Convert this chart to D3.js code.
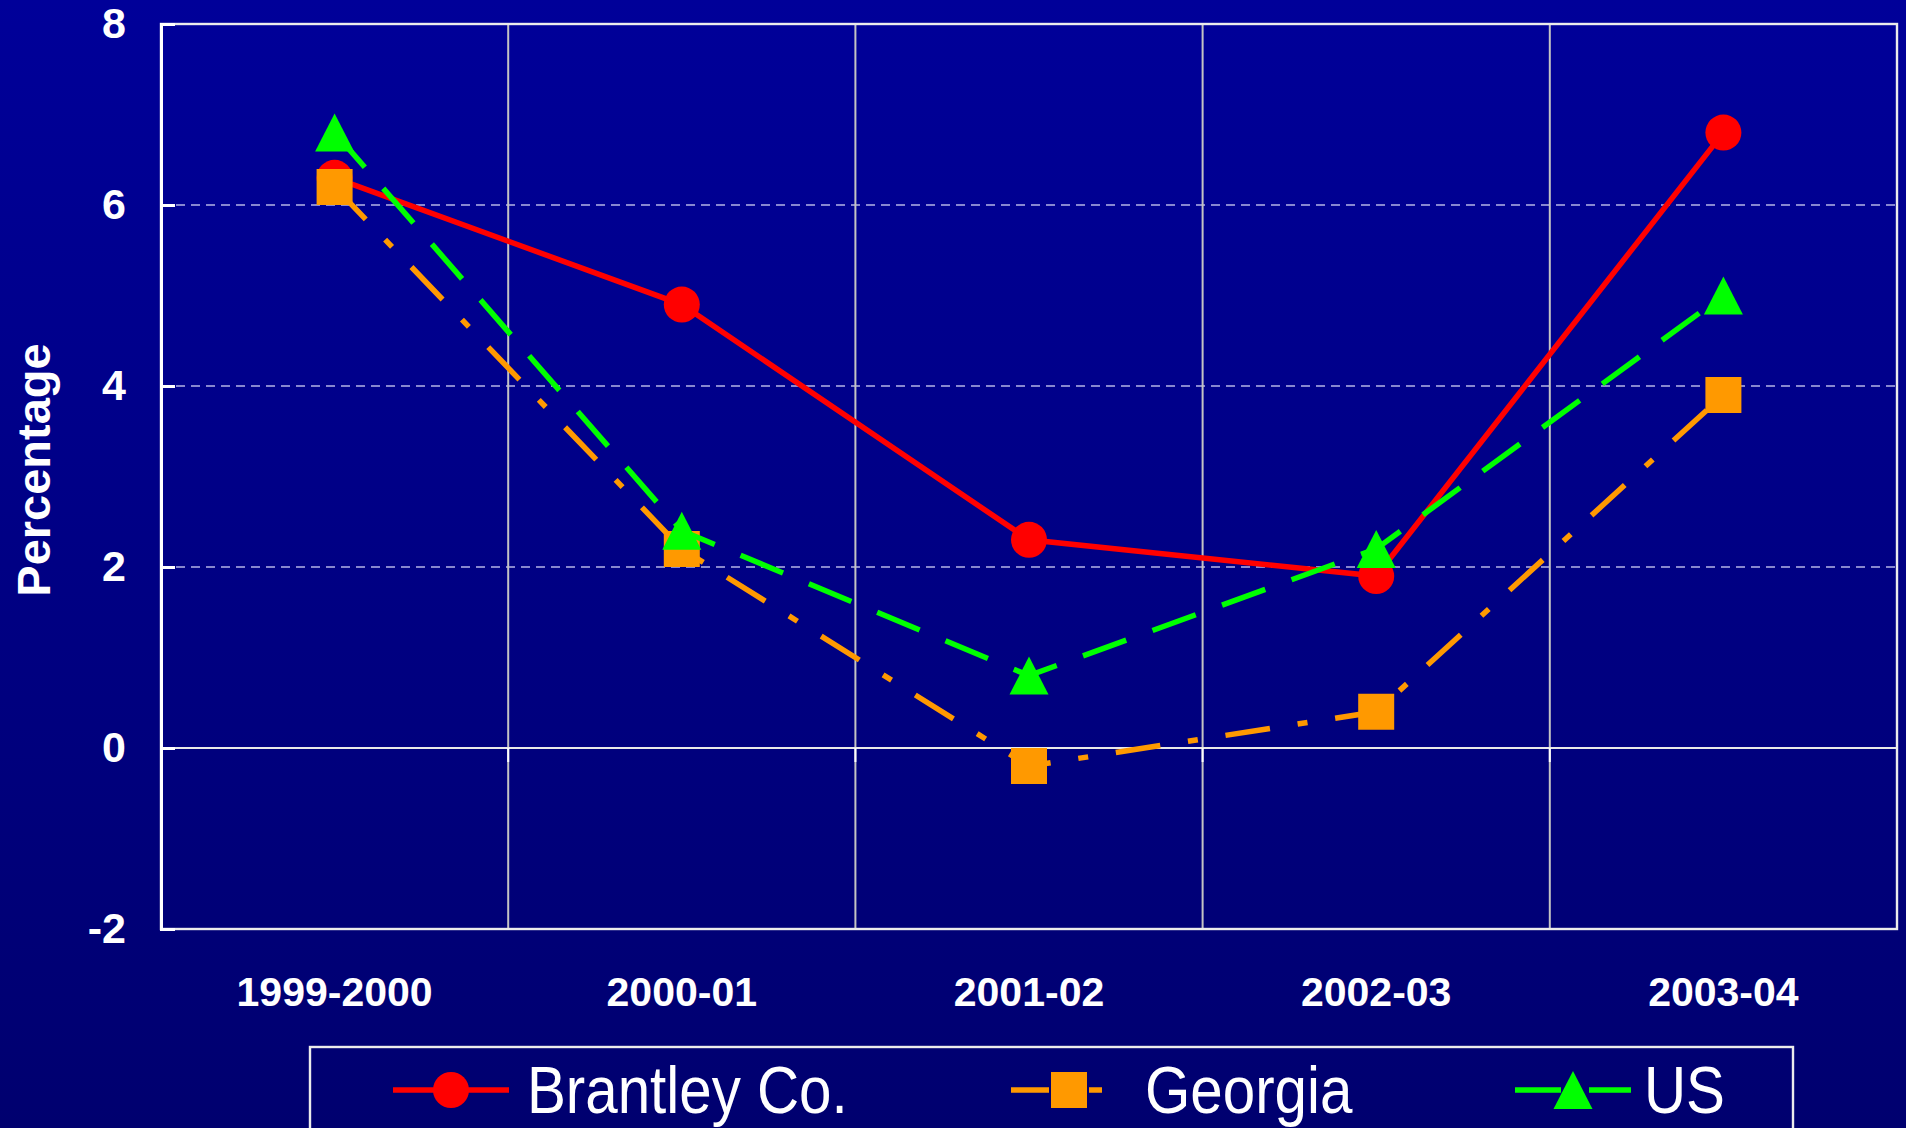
<!DOCTYPE html>
<html>
<head>
<meta charset="utf-8">
<script src="https://cdn.jsdelivr.net/npm/d3@7"></script>
<style>
  html, body { margin: 0; padding: 0; background: #000080; }
  svg { display: block; }
</style>
</head>
<body>
<svg id="chart"></svg>
<script>
// data
const categories = ["1999-2000", "2000-01", "2001-02", "2002-03", "2003-04"];
const brantley = [6.3, 4.9, 2.3, 1.9, 6.8];
const georgia = [6.2, 2.2, -0.2, 0.4, 3.9];
const us = [6.8, 2.4, 0.8, 2.2, 5.0];
const yTicks = [-2, 0, 2, 4, 6, 8];
const gridValues = [2, 4, 6];
const seriesNames = ["Brantley Co.", "Georgia", "US"];

const width = 1906;
const height = 1128;
const plotLeft = 161, plotRight = 1897, plotTop = 24, plotBottom = 929;

const svg = d3.select("#chart")
              .attr("width", width)
              .attr("height", height);

// slide background
let grad = svg.append("defs").append("linearGradient")
   .attr("id", "bg").attr("x1", 0).attr("y1", 0).attr("x2", 0).attr("y2", 1);
grad.append("stop").attr("offset", "0%").attr("stop-color", "#000099");
grad.append("stop").attr("offset", "100%").attr("stop-color", "#00006f");
svg.append("rect").attr("width", width).attr("height", height).attr("fill", "url(#bg)");

const x = d3.scaleBand().domain(categories).range([plotLeft, plotRight]);
const y = d3.scaleLinear().domain([-2, 8]).range([plotBottom, plotTop]);
const cx = (c) => x(c) + x.bandwidth() / 2;

// dashed horizontal gridlines
svg.append("g")
   .selectAll("line")
   .data(gridValues)
   .enter()
   .append("line")
   .attr("x1", plotLeft).attr("x2", plotRight)
   .attr("y1", d => y(d)).attr("y2", d => y(d))
   .attr("stroke", "#b4b4e6")
   .attr("stroke-width", 1.6)
   .attr("stroke-dasharray", "9,6");

// vertical gridlines at category boundaries
const bounds = categories.slice(1).map(c => x(c));
svg.append("g")
   .selectAll("line")
   .data(bounds)
   .enter()
   .append("line")
   .attr("x1", d => d).attr("x2", d => d)
   .attr("y1", plotTop).attr("y2", plotBottom)
   .attr("stroke", "#c4c4c4")
   .attr("stroke-width", 2);

// zero line with downward ticks
svg.append("line")
   .attr("x1", plotLeft).attr("x2", plotRight)
   .attr("y1", y(0)).attr("y2", y(0))
   .attr("stroke", "#e8e8e8").attr("stroke-width", 2.2);
svg.append("g")
   .selectAll("line")
   .data([plotLeft].concat(bounds).concat([plotRight]))
   .enter()
   .append("line")
   .attr("x1", d => d).attr("x2", d => d)
   .attr("y1", y(0)).attr("y2", y(0) + 14)
   .attr("stroke", "white").attr("stroke-width", 2);

// plot frame
svg.append("rect")
   .attr("x", plotLeft).attr("y", plotTop)
   .attr("width", plotRight - plotLeft).attr("height", plotBottom - plotTop)
   .attr("fill", "none")
   .attr("stroke", "#ececec")
   .attr("stroke-width", 2.4);

// y axis
const yAxis = svg.append("g")
   .attr("transform", `translate(${plotLeft},0)`)
   .call(d3.axisLeft(y).tickValues(yTicks).tickSize(-14).tickPadding(35).tickFormat(d => String(d)));
yAxis.select(".domain").attr("stroke", "white").attr("stroke-width", 3);
yAxis.selectAll(".tick line").attr("stroke", "white").attr("stroke-width", 3);
yAxis.selectAll(".tick text")
   .attr("fill", "white")
   .style("font-family", "'Liberation Sans', Arial, sans-serif")
   .style("font-weight", "bold")
   .style("font-size", "43px");

// category labels
svg.append("g")
   .selectAll("text")
   .data(categories)
   .enter()
   .append("text")
   .attr("x", d => cx(d))
   .attr("y", 1006)
   .attr("text-anchor", "middle")
   .attr("fill", "white")
   .style("font-family", "'Liberation Sans', Arial, sans-serif")
   .style("font-weight", "bold")
   .style("font-size", "41px")
   .text(d => d);

// y title
svg.append("text")
   .attr("transform", "translate(50,470) rotate(-90)")
   .attr("text-anchor", "middle")
   .attr("fill", "white")
   .style("font-family", "'Liberation Sans', Arial, sans-serif")
   .style("font-weight", "bold")
   .style("font-size", "47px")
   .text("Percentage");

// markers
const triPath = "M0,-19L19.5,19L-19.5,19Z";
const markers = {
  circle: d3.symbol().type(d3.symbolCircle).size(Math.PI * 18 * 18)(),
  square: d3.symbol().type(d3.symbolSquare).size(36 * 36)(),
  triangle: triPath
};

const series = [
  {name: seriesNames[0], values: brantley, color: "#ff0000", dash: null, keyDash: null, marker: "circle"},
  {name: seriesNames[1], values: georgia, color: "#ff9900", dash: "45,28,10,28", keyDash: "38,40,13,40", marker: "square"},
  {name: seriesNames[2], values: us, color: "#00ff00", dash: "46,28", keyDash: "46,28", marker: "triangle"}
];

const line = d3.line()
   .x((v, i) => cx(categories[i]))
   .y(v => y(v));

series.forEach(s => {
  let g = svg.append("g");
  g.append("path")
   .attr("d", line(s.values))
   .attr("fill", "none")
   .attr("stroke", s.color)
   .attr("stroke-width", 5.5)
   .attr("stroke-dasharray", s.dash);
  g.selectAll(".mark")
   .data(s.values)
   .enter()
   .append("path")
   .attr("class", "mark")
   .attr("d", markers[s.marker])
   .attr("transform", (v, i) => `translate(${cx(categories[i])},${y(v)})`)
   .attr("fill", s.color);
});

// legend
svg.append("rect")
   .attr("x", 310).attr("y", 1047)
   .attr("width", 1483).attr("height", 110)
   .attr("fill", "none")
   .attr("stroke", "#ececec")
   .attr("stroke-width", 2.4);

const legendX = [393, 1011, 1515];
const legendY = 1090;
series.forEach((s, i) => {
  let g = svg.append("g").attr("transform", `translate(${legendX[i]},0)`);
  g.append("line")
   .attr("x1", 0).attr("x2", 116)
   .attr("y1", legendY).attr("y2", legendY)
   .attr("stroke", s.color)
   .attr("stroke-width", 5.5)
   .attr("stroke-dasharray", s.keyDash);
  g.append("path")
   .attr("d", markers[s.marker])
   .attr("transform", `translate(58,${legendY})`)
   .attr("fill", s.color);
  g.append("text")
   .attr("transform", `translate(${i == 2 ? 129 : 134},1113) scale(0.87,1)`)
   .attr("fill", "white")
   .style("font-family", "'Liberation Sans', Arial, sans-serif")
   .style("font-size", "67px")
   .text(s.name);
});
</script>
</body>
</html>
